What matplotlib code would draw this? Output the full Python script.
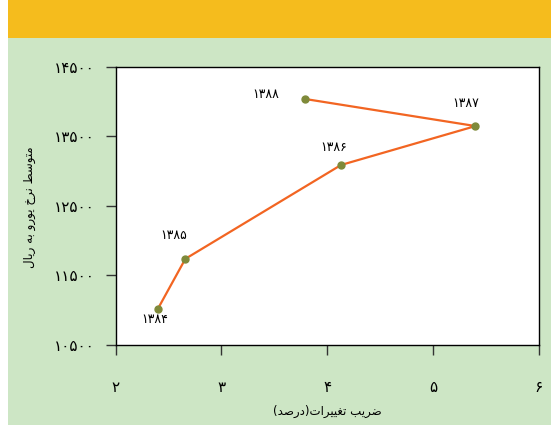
import matplotlib.pyplot as plt
from matplotlib.patches import Rectangle

# data
years = ['۱۳۸۴', '۱۳۸۵', '۱۳۸۶', '۱۳۸۷', '۱۳۸۸']
cv = [2.40, 2.66, 4.13, 5.40, 3.79]          # ضریب تغییرات (درصد)
rate = [11020, 11740, 13090, 13650, 14040]    # متوسط نرخ یورو به ریال
label_offsets = [(-3, -11), (-12, 23), (-7, 17), (-10, 23), (-39, 4)]

xticks = [2, 3, 4, 5, 6]
yticks = [10500, 11500, 12500, 13500, 14500]

xlabel = 'ضریب تغییرات(درصد)'
ylabel = 'متوسط نرخ یورو به ریال'

# --- minimal arabic/persian shaping (matplotlib has no complex text layout)
FORMS = {
    'ا': (0xFE8D, 0xFE8E, None, None),
    'ب': (0xFE8F, 0xFE90, 0xFE91, 0xFE92),
    'ت': (0xFE95, 0xFE96, 0xFE97, 0xFE98),
    'خ': (0xFEA5, 0xFEA6, 0xFEA7, 0xFEA8),
    'د': (0xFEA9, 0xFEAA, None, None),
    'ر': (0xFEAD, 0xFEAE, None, None),
    'س': (0xFEB1, 0xFEB2, 0xFEB3, 0xFEB4),
    'ص': (0xFEB9, 0xFEBA, 0xFEBB, 0xFEBC),
    'ض': (0xFEBD, 0xFEBE, 0xFEBF, 0xFEC0),
    'ط': (0xFEC1, 0xFEC2, 0xFEC3, 0xFEC4),
    'غ': (0xFECD, 0xFECE, 0xFECF, 0xFED0),
    'ل': (0xFEDD, 0xFEDE, 0xFEDF, 0xFEE0),
    'م': (0xFEE1, 0xFEE2, 0xFEE3, 0xFEE4),
    'ن': (0xFEE5, 0xFEE6, 0xFEE7, 0xFEE8),
    'ه': (0xFEE9, 0xFEEA, 0xFEEB, 0xFEEC),
    'و': (0xFEED, 0xFEEE, None, None),
    'ی': (0xFBFC, 0xFBFD, 0xFBFE, 0xFBFF),
}
MIRROR = {'(': ')', ')': '('}


def shape(text):
    out = []
    n = len(text)
    for i, ch in enumerate(text):
        if ch not in FORMS:
            out.append(ch)
            continue
        prev = text[i - 1] if i > 0 else None
        nxt = text[i + 1] if i < n - 1 else None
        join_prev = prev in FORMS and FORMS[prev][2] is not None
        join_next = nxt in FORMS and FORMS[ch][2] is not None
        iso, fin, ini, med = FORMS[ch]
        if join_prev and join_next:
            g = med
        elif join_prev:
            g = fin
        elif join_next:
            g = ini
        else:
            g = iso
        out.append(chr(g))
    return ''.join(MIRROR.get(c, c) for c in reversed(out))


def fa_digits(v):
    return str(v).translate(str.maketrans('0123456789', '۰۱۲۳۴۵۶۷۸۹'))


W, H = 551, 425
fig = plt.figure(figsize=(W / 100, H / 100), dpi=100)
fig.patch.set_facecolor('#cde6c5')
fig.patches.append(Rectangle((0, 0), 8 / W, 1, transform=fig.transFigure,
                             facecolor='white', edgecolor='none', zorder=0))
fig.patches.append(Rectangle((8 / W, 1 - 38 / H), 1, 38 / H, transform=fig.transFigure,
                             facecolor='#f5bc1d', edgecolor='none', zorder=0))

ax = fig.add_axes([115.5 / W, 1 - 345 / H, 423.5 / W, 278 / H])
ax.set_facecolor('white')
ax.plot(cv, rate, color='#f26522', linewidth=1.6, zorder=2)
ax.plot(cv, rate, 'o', color='#7f8a3a', markersize=5, zorder=3)

for x, y, lab, off in zip(cv, rate, years, label_offsets):
    ax.annotate(lab, (x, y), xytext=off, textcoords='offset pixels',
                ha='center', va='center', fontsize=9)

ax.set_xlim(2, 6)
ax.set_ylim(10500, 14500)
ax.set_xticks(xticks)
ax.set_yticks(yticks)
ax.set_xticklabels([fa_digits(t) for t in xticks], fontsize=11)
ax.set_yticklabels([fa_digits(t) for t in yticks], fontsize=11)
ax.tick_params(direction='out', length=7, width=1, color='#333333')
ax.tick_params(axis='x', pad=18)
ax.tick_params(axis='y', pad=8)
for s in ax.spines.values():
    s.set_linewidth(1)

fig.text(327 / W, 1 - 411 / H, shape(xlabel), fontsize=8.5, ha='center', va='center')
fig.text(30 / W, 1 - 207 / H, shape(ylabel), fontsize=8.5, ha='center', va='center',
         rotation=90)

fig.savefig('out.png', dpi=100, facecolor=fig.get_facecolor())
